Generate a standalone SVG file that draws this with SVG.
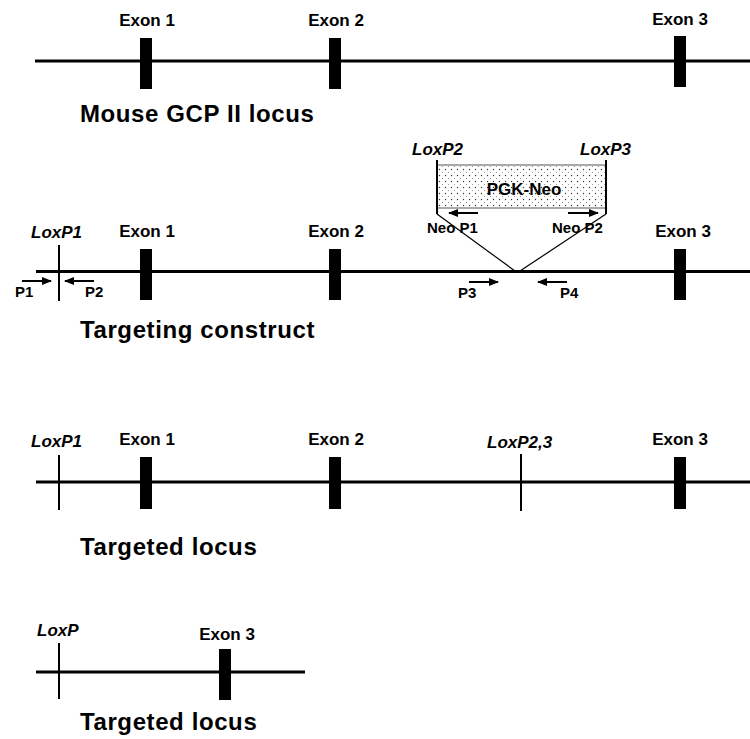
<svg xmlns="http://www.w3.org/2000/svg" width="750" height="739" viewBox="0 0 750 739">
<style>
text{font-family:"Liberation Sans",Arial,sans-serif;font-weight:bold;fill:#000}
.ex{font-size:17px;text-anchor:middle}
.lox{font-size:17px;font-style:italic}
.title{font-size:24px;letter-spacing:0.6px}
.pr{font-size:15px}
.neo{font-size:15px}
.dna{stroke:#000;stroke-width:3;fill:none}
.tick{stroke:#000;stroke-width:2;fill:none}
.bar{fill:#000}
.arr{stroke:#000;stroke-width:2;fill:none;marker-end:url(#ah)}
.thin{stroke:#000;stroke-width:1.2;fill:none}
</style>
<defs>
<marker id="ah" markerWidth="10" markerHeight="9" refX="9" refY="4.5" orient="auto" markerUnits="userSpaceOnUse">
<path d="M0,0.5 L10,4.5 L0,8.5 Z" fill="#000"/>
</marker>
<pattern id="dots" width="6" height="6" patternUnits="userSpaceOnUse">
<rect width="6" height="6" fill="#fff"/>
<circle cx="1.5" cy="1.5" r="0.7" fill="#333"/>
<circle cx="4.5" cy="4.5" r="0.5" fill="#777"/>
</pattern>
</defs>
<rect width="750" height="739" fill="#fff"/>

<g id="row1">
<line class="dna" x1="35" y1="61" x2="750" y2="61"/>
<g id="r1-exon1"><rect class="bar" x="140" y="38" width="12" height="51"/><text class="ex" x="147" y="26">Exon 1</text></g>
<g id="r1-exon2"><rect class="bar" x="329" y="38" width="12" height="51"/><text class="ex" x="336" y="26">Exon 2</text></g>
<g id="r1-exon3"><rect class="bar" x="674" y="36" width="12" height="51"/><text class="ex" x="680" y="25">Exon 3</text></g>
<text class="title" x="80" y="122">Mouse GCP II locus</text>
</g>

<g id="row2">
<line class="dna" x1="36" y1="271.5" x2="750" y2="271.5"/>
<g id="r2-loxp1"><line class="tick" x1="59" y1="245" x2="59" y2="301"/><text class="lox" x="31" y="238">LoxP1</text></g>
<g id="r2-exon1"><rect class="bar" x="140" y="249" width="12" height="51"/><text class="ex" x="147" y="237">Exon 1</text></g>
<g id="r2-exon2"><rect class="bar" x="329" y="249" width="12" height="51"/><text class="ex" x="336" y="237">Exon 2</text></g>
<g id="r2-exon3"><rect class="bar" x="674" y="249" width="12" height="51"/><text class="ex" x="683" y="237">Exon 3</text></g>
<g id="pgkneo">
<rect x="437" y="165" width="169" height="43" fill="url(#dots)" stroke="#555" stroke-width="1"/>
<line class="tick" x1="437" y1="160" x2="437" y2="214"/>
<line class="tick" x1="606" y1="160" x2="606" y2="214"/>
<text x="524" y="195" font-size="17" text-anchor="middle">PGK-Neo</text>
<text class="lox" x="412" y="155">LoxP2</text>
<text class="lox" x="580" y="155">LoxP3</text>
</g>
<text class="title" x="80" y="338">Targeting construct</text>
</g>

<g id="connectors">
<line class="thin" x1="437" y1="214" x2="515" y2="271"/>
<line class="thin" x1="606" y1="214" x2="520" y2="271"/>
<line class="arr" x1="22" y1="281" x2="51" y2="281"/>
<line class="arr" x1="94" y1="281" x2="65" y2="281"/>
<line class="arr" x1="469" y1="282" x2="498" y2="282"/>
<line class="arr" x1="567" y1="282" x2="538" y2="282"/>
<line class="arr" x1="478" y1="213" x2="449" y2="213"/>
<line class="arr" x1="568" y1="213" x2="598" y2="213"/>
</g>

<g id="primer-labels">
<text class="pr" x="15" y="297">P1</text>
<text class="pr" x="85" y="297">P2</text>
<text class="pr" x="458" y="298">P3</text>
<text class="pr" x="560" y="298">P4</text>
<text class="neo" x="427" y="233">Neo P1</text>
<text class="neo" x="552" y="233">Neo P2</text>
</g>

<g id="row3">
<line class="dna" x1="36" y1="482" x2="750" y2="482"/>
<g id="r3-loxp1"><line class="tick" x1="59" y1="455" x2="59" y2="510"/><text class="lox" x="31" y="447">LoxP1</text></g>
<g id="r3-exon1"><rect class="bar" x="140" y="457" width="12" height="52"/><text class="ex" x="147" y="445">Exon 1</text></g>
<g id="r3-exon2"><rect class="bar" x="329" y="457" width="12" height="52"/><text class="ex" x="336" y="445">Exon 2</text></g>
<g id="r3-loxp23"><line class="tick" x1="521" y1="454" x2="521" y2="511"/><text class="lox" x="487" y="448">LoxP2,3</text></g>
<g id="r3-exon3"><rect class="bar" x="674" y="457" width="12" height="52"/><text class="ex" x="680" y="445">Exon 3</text></g>
<text class="title" x="80" y="555">Targeted locus</text>
</g>

<g id="row4">
<line class="dna" x1="36" y1="672" x2="305" y2="672"/>
<g id="r4-loxp"><line class="tick" x1="59" y1="643" x2="59" y2="699"/><text class="lox" x="37" y="636">LoxP</text></g>
<g id="r4-exon3"><rect class="bar" x="219" y="649" width="12" height="51"/><text class="ex" x="227" y="640">Exon 3</text></g>
<text class="title" x="80" y="730">Targeted locus</text>
</g>
</svg>
